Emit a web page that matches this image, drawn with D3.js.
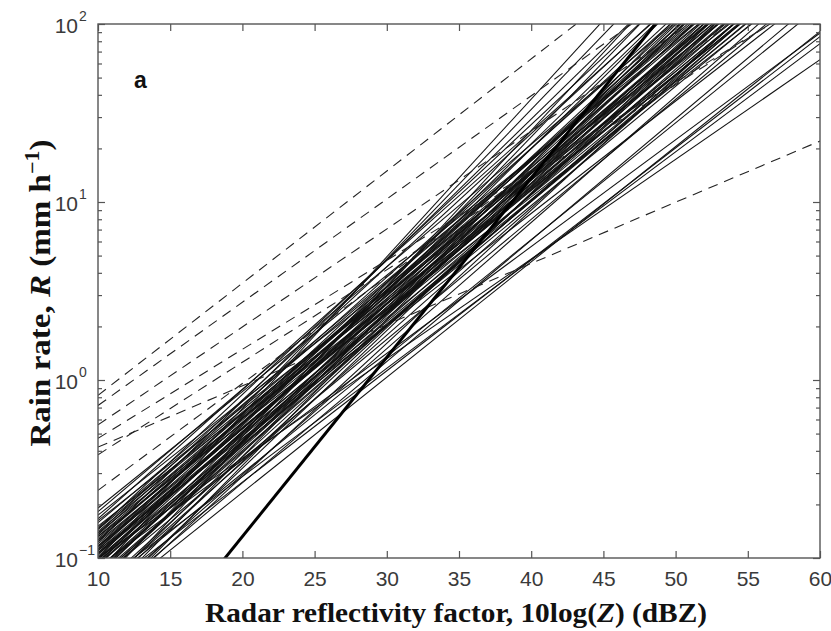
<!DOCTYPE html>
<html>
<head>
<meta charset="utf-8">
<script src="https://cdn.jsdelivr.net/npm/d3@7"></script>
<style>
  body { margin: 0; background: #fff; }
  svg { display: block; }
</style>
</head>
<body>
<svg id="zr_area" width="831" height="631"></svg>
<script>
// Z-R relations drawn as rain rate vs reflectivity, log R axis
// every line is given by the rain rate it has at 10 dBZ and at 60 dBZ

const xTicks = [10, 15, 20, 25, 30, 35, 40, 45, 50, 55, 60];
const yDecades = [0.1, 1, 10, 100];
const yExponents = ["\u22121", "0", "1", "2"];

// thin solid relations (mm/h at 10 dBZ and at 60 dBZ)
const solidR10 = [0.191, 0.182, 0.174, 0.166, 0.158, 0.151, 0.145, 0.141, 0.135, 0.132,
  0.126, 0.123, 0.117, 0.112, 0.110, 0.105, 0.100, 0.100, 0.0955, 0.0912,
  0.0891, 0.0851, 0.0832, 0.0794, 0.0759, 0.0741, 0.0708, 0.0692, 0.0661, 0.0631,
  0.0661, 0.0631, 0.0617, 0.0603, 0.0575, 0.0562, 0.0550, 0.0537, 0.0525, 0.0513,
  0.0501, 0.148, 0.129, 0.115, 0.107, 0.0977, 0.0933, 0.0871, 0.0813, 0.0776,
  0.0724, 0.162, 0.138, 0.0676, 0.120, 0.102,
  0.132, 0.123, 0.112, 0.107, 0.100, 0.0955, 0.0912, 0.0871, 0.117, 0.138,
  0.105, 0.0977, 0.0832, 0.0794, 0.126, 0.110, 0.0933, 0.145, 0.0759, 0.115];
const solidR60 = [355, 501, 282, 708, 398, 224, 891, 316, 562, 200,
  447, 1122, 251, 631, 158, 355, 63, 1585, 224, 501,
  89, 282, 2239, 794, 178, 398, 77.6, 1122, 251, 562,
  126, 85, 355, 1413, 200, 708, 141, 398, 91, 282,
  631, 417, 302, 479, 240, 380, 794, 331, 457, 263,
  603, 251, 759, 331, 363, 525,
  380, 275, 417, 331, 288, 437, 316, 240, 501, 229,
  219, 575, 363, 263, 347, 288, 209, 331, 417, 251];

// dashed relations
const dashedR10 = [0.82, 0.719, 0.56, 0.47, 0.42, 0.38, 0.24];
const dashedR60 = [1159, 571, 315, 149, 22.0, 151, 240];

// heavy relation
const thickR10 = [0.0130];
const thickR60 = [1406];

const width = 831, height = 631;
const margin = {top: 24, right: 11, bottom: 73, left: 98};

const x = d3.scaleLinear().domain([10, 60]).range([margin.left, width - margin.right]);
const y = d3.scaleLog().domain([0.1, 100]).range([height - margin.bottom, margin.top]);

const svg = d3.select("#zr_area");

svg.append("defs").append("clipPath")
    .attr("id", "plotClip")
  .append("rect")
    .attr("x", x(10)).attr("y", y(100))
    .attr("width", x(60) - x(10)).attr("height", y(0.1) - y(100));

const line = d3.line().x(d => x(d.dbz)).y(d => y(d.r));
const toPts = (r10, r60) => r10.map((v, i) => [{dbz: 10, r: v}, {dbz: 60, r: r60[i]}]);

const plot = svg.append("g").attr("clip-path", "url(#plotClip)");

plot.append("g")
    .attr("fill", "none")
    .attr("stroke", "#111")
    .attr("stroke-width", 1.05)
  .selectAll("path")
  .data(toPts(solidR10, solidR60))
  .join("path")
    .attr("d", line);

plot.append("g")
    .attr("fill", "none")
    .attr("stroke", "#222")
    .attr("stroke-width", 1.1)
    .attr("stroke-dasharray", "10,7")
  .selectAll("path")
  .data(toPts(dashedR10, dashedR60))
  .join("path")
    .attr("d", line);

plot.append("g")
    .attr("fill", "none")
    .attr("stroke", "#000")
    .attr("stroke-width", 3)
  .selectAll("path")
  .data(toPts(thickR10, thickR60))
  .join("path")
    .attr("d", line);

// frame + inward ticks, matlab style
const axisColor = "#555";
const yMinor = [];
yDecades.slice(0, 3).forEach(d => { for (let k = 2; k <= 9; k++) yMinor.push(d * k); });

function styleAxis(g) {
  g.select(".domain").remove();
  g.selectAll(".tick line").attr("stroke", axisColor).attr("stroke-width", 1.2);
}

svg.append("g")
    .attr("transform", `translate(0,${y(0.1)})`)
    .call(d3.axisBottom(x).tickValues(xTicks).tickSize(-7).tickPadding(13))
    .call(styleAxis)
    .call(g => g.selectAll("text")
        .attr("fill", "#3a3a3a")
        .style("font", "21px 'Liberation Sans', Arial, sans-serif"));

svg.append("g")
    .attr("transform", `translate(0,${y(100)})`)
    .call(d3.axisTop(x).tickValues(xTicks).tickSize(-7).tickFormat(""))
    .call(styleAxis);

[[d3.axisLeft, x(10)], [d3.axisRight, x(60)]].forEach(([ax, pos]) => {
  svg.append("g")
      .attr("transform", `translate(${pos},0)`)
      .call(ax(y).tickValues(yDecades).tickSize(-7).tickFormat(""))
      .call(styleAxis);
  svg.append("g")
      .attr("transform", `translate(${pos},0)`)
      .call(ax(y).tickValues(yMinor).tickSize(-4).tickFormat(""))
      .call(styleAxis);
});

svg.append("rect")
    .attr("x", x(10)).attr("y", y(100))
    .attr("width", x(60) - x(10)).attr("height", y(0.1) - y(100))
    .attr("fill", "none")
    .attr("stroke", axisColor)
    .attr("stroke-width", 1.4);

// y tick labels 10^n
const yLab = svg.append("g")
    .attr("fill", "#3a3a3a")
    .style("font-family", "'Liberation Sans', Arial, sans-serif");
yLab.selectAll("text.base")
  .data(yDecades)
  .join("text")
    .attr("class", "base")
    .attr("x", x(10) - 20)
    .attr("y", d => y(d) + 9)
    .attr("text-anchor", "end")
    .style("font-size", "21px")
    .text("10");
yLab.selectAll("text.exp")
  .data(yDecades)
  .join("text")
    .attr("class", "exp")
    .attr("x", x(10) - 19)
    .attr("y", (d, i) => y(d) - 3)
    .style("font-size", "14px")
    .text((d, i) => yExponents[i]);

// panel letter
svg.append("text")
    .attr("x", 134).attr("y", 88)
    .style("font", "bold 23px 'Liberation Sans', Arial, sans-serif")
    .attr("fill", "#111")
    .text("a");

// axis titles
const xTitle = svg.append("text")
    .attr("x", 456).attr("y", 622)
    .attr("text-anchor", "middle")
    .attr("textLength", 502)
    .attr("lengthAdjust", "spacingAndGlyphs")
    .attr("fill", "#111")
    .style("font", "bold 28px 'Liberation Serif', 'Times New Roman', serif");
xTitle.append("tspan").text("Radar reflectivity factor, 10log(");
xTitle.append("tspan").style("font-style", "italic").text("Z");
xTitle.append("tspan").text(") (dBZ)");

const yTitle = svg.append("text")
    .attr("transform", "translate(50,293) rotate(-90)")
    .attr("text-anchor", "middle")
    .attr("textLength", 307)
    .attr("lengthAdjust", "spacingAndGlyphs")
    .attr("fill", "#111")
    .style("font", "bold 30px 'Liberation Serif', 'Times New Roman', serif");
yTitle.append("tspan").text("Rain rate, ");
yTitle.append("tspan").style("font-style", "italic").text("R");
yTitle.append("tspan").text(" (mm h");
yTitle.append("tspan").attr("dy", -11).style("font-size", "20px").text("\u22121");
yTitle.append("tspan").attr("dy", 11).text(")");
</script>
</body>
</html>
